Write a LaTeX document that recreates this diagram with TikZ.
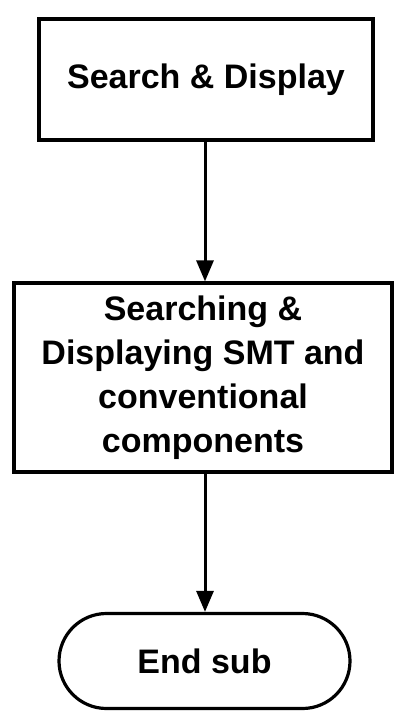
\documentclass[tikz,border=0pt]{standalone}
\usepackage{fontspec}
\setmainfont{Liberation Sans}
\usetikzlibrary{arrows.meta,shapes.misc}
\begin{document}
\begin{tikzpicture}[x=1pt,y=1pt,
  procbox/.style={draw,line width=3.2pt,inner sep=0pt,align=center,
    font=\fontsize{34}{44}\selectfont\bfseries},
  endbox/.style={draw,line width=3.2pt,rounded rectangle,inner sep=0pt,
    font=\fontsize{34}{44}\selectfont\bfseries},
  flow/.style={line width=3pt,-{Triangle[length=21pt,width=17pt]}}]
  \useasboundingbox (0,0) rectangle (399,-719);
  \node[procbox,minimum width=334pt,minimum height=121pt] (search) at (206,-79.5) {Search \& Display};
  \node[procbox,minimum width=378pt,minimum height=189pt] (showparts) at (203,-377.5)
    {Searching \&\\Displaying SMT and\\conventional\\components};
  \node[endbox,minimum width=291pt,minimum height=95pt] (finish) at (204.5,-661) {End sub};
  \draw[flow] (search.south -| 205,0) -- (showparts.north -| 205,0);
  \draw[flow] (showparts.south -| 205,0) -- (finish.north -| 205,0);
\end{tikzpicture}
\end{document}
